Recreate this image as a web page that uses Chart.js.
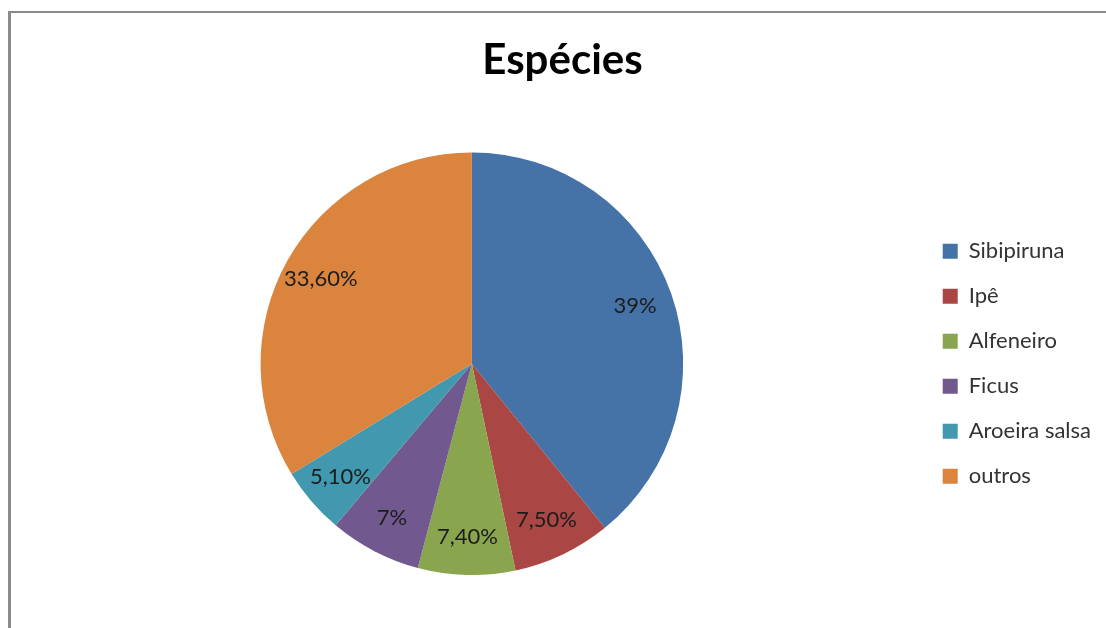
<!DOCTYPE html>
<html>
<head>
<meta charset="utf-8">
<script src="https://cdn.jsdelivr.net/npm/chart.js@4/dist/chart.umd.min.js"></script>
<style>
  html, body { margin: 0; padding: 0; background: #fff; }
  #wrap { position: relative; width: 1106px; height: 628px; overflow: hidden; }
  #frame { position: absolute; left: 8px; top: 11px; width: 1200px; height: 700px;
           border-top: 2px solid #8a8a8a; border-left: 3px solid #8a8a8a; }
  canvas { position: absolute; left: 0; top: 0; }
</style>
</head>
<body>
<div id="wrap">
  <div id="frame"></div>
  <canvas id="especies" width="1106" height="628"></canvas>
</div>
<script>
const especies = ['Sibipiruna', 'Ipê', 'Alfeneiro', 'Ficus', 'Aroeira salsa', 'outros'];
const percentuais = [39, 7.5, 7.4, 7, 5.1, 33.6];
const cores = ['#4572A7', '#AA4643', '#89A54E', '#71588F', '#4198AF', '#DB843D'];

// rótulos de porcentagem dentro das fatias, no estilo do Excel (vírgula decimal)
const rotulos = {
    id: 'rotulos',
    afterDatasetsDraw(chart) {
        const ctx = chart.ctx;
        const meta = chart.getDatasetMeta(0);
        ctx.save();
        ctx.font = '22px Lato';
        ctx.fillStyle = '#1c1c1c';
        ctx.textAlign = 'center';
        ctx.textBaseline = 'middle';
        meta.data.forEach((arc, i) => {
            const p = arc.getProps(['x', 'y', 'startAngle', 'endAngle', 'outerRadius']);
            const mid = (p.startAngle + p.endAngle) / 2;
            const r = p.outerRadius * 0.82;
            const v = percentuais[i];
            const txt = Number.isInteger(v) ? v + '%' : v.toFixed(2).replace('.', ',') + '%';
            ctx.fillText(txt, p.x + Math.cos(mid) * r, p.y + Math.sin(mid) * r);
        });
        ctx.restore();
    }
};

new Chart(
    document.getElementById('especies'),
    {
        type: 'pie',
        data: {
            labels: especies,
            datasets: [{
                data: percentuais,
                backgroundColor: cores,
                borderWidth: 0
            }]
        },
        options: {
            responsive: false,
            animation: false,
            layout: { padding: { left: 24, right: 5, top: 0, bottom: 53 } },
            plugins: {
                title: {
                    display: true,
                    text: 'Espécies',
                    color: '#000',
                    font: { family: 'Lato', size: 42, weight: 'bold' },
                    padding: { top: 35, bottom: 67 }
                },
                legend: {
                    position: 'right',
                    fullSize: false,
                    labels: {
                        color: '#333',
                        font: { family: 'Lato', size: 22 },
                        boxWidth: 15,
                        boxHeight: 15,
                        padding: 23
                    }
                },
                tooltip: { enabled: false }
            }
        },
        plugins: [rotulos]
    }
);
</script>
</body>
</html>
